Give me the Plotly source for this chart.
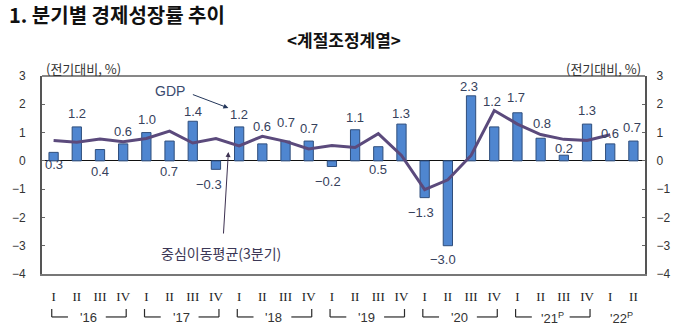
import plotly.graph_objects as go

# Quarterly real GDP growth (q/q, seasonally adjusted, %)
quarters = ["I", "II", "III", "IV"] * 6 + ["I", "II"]
gdp_growth = [0.3, 1.2, 0.4, 0.6,
              1.0, 0.7, 1.4, -0.3,
              1.2, 0.6, 0.7, 0.7,
              -0.2, 1.1, 0.5, 1.3,
              -1.3, -3.0, 2.3, 1.2,
              1.7, 0.8, 0.2, 1.3,
              0.6, 0.7]
# Centred 3-quarter moving average (through 2022 Q1)
moving_avg = [0.72, 0.66, 0.77, 0.68,
              0.79, 1.05, 0.63, 0.79,
              0.53, 0.87, 0.69, 0.42,
              0.54, 0.47, 0.96, 0.19,
              -1.02, -0.67, 0.19, 1.78,
              1.30, 0.93, 0.76, 0.72,
              0.92]
year_labels = ["'16", "'17", "'18", "'19", "'20", "'21<sup>P</sup>"]
last_year_label = "'22<sup>P</sup>"

# Pixel offsets for the value labels (positive = above the bar end)
label_yshift = [-12, 13, -22, 12, 13, -30, 10, -15,
                12, 17, 19, 13, -15, 12, -23, 11,
                -15, -14, 9, 25, 15, 15, 7, 14, 10, 14]
label_xshift = [0, 0, 0, 0, 1, -1, 0, -7,
                0, 0, 0, 0, -4, 0, 0, 0,
                -4, -5, -2, -2, -1, 1, 0, 0, 0, -1]

n = len(gdp_growth)
xs = list(range(n))

TEXT = "#333333"
LABEL = "#36415c"
KR = "Noto Sans CJK KR"
NUM = "Liberation Sans"

fig = go.Figure()
fig.add_trace(go.Bar(
    x=xs, y=gdp_growth, width=0.4,
    marker=dict(color="#4f86d0", line=dict(color="#2f4e7c", width=1)),
    showlegend=False, hoverinfo="skip"))
fig.add_trace(go.Scatter(
    x=xs[:len(moving_avg)], y=moving_avg, mode="lines",
    line=dict(color="#5b4a7c", width=3), showlegend=False, hoverinfo="skip"))
# invisible trace to carry the right-hand axis
fig.add_trace(go.Scatter(x=[0], y=[0], yaxis="y2", mode="markers",
                         marker=dict(opacity=0), showlegend=False, hoverinfo="skip"))

ann = []
for i, v in enumerate(gdp_growth):
    txt = f"{v:.1f}".replace("-", "\u2212")
    ann.append(dict(x=i, y=v, xref="x", yref="y", text=txt, showarrow=False,
                    yshift=label_yshift[i], xshift=label_xshift[i],
                    xanchor="center", yanchor="middle",
                    font=dict(family=NUM, size=13, color=LABEL)))

# items below are placed in pixel coordinates and converted further down
px_ann = []
px_ann.append(dict(x=82, y=68, text="(전기대비, %)",
                   font=dict(family=KR, size=13, color=TEXT)))
px_ann.append(dict(x=603, y=68, text="(전기대비, %)",
                   font=dict(family=KR, size=13, color=TEXT)))
px_ann.append(dict(x=5, y=15, text="<b>1. 분기별 경제성장률 추이</b>", xanchor="left",
                   font=dict(family=KR, size=20, color="#111111")))
px_ann.append(dict(x=343, y=39, text="<b>&lt;계절조정계열&gt;</b>",
                   font=dict(family=KR, size=17, color="#111111")))
px_ann.append(dict(x=168, y=91, text="GDP",
                   font=dict(family=NUM, size=14, color="#3a4a6e")))
px_ann.append(dict(x=220, y=253, text="중심이동평균(3분기)",
                   font=dict(family=KR, size=14, color="#3c3856")))
# callout arrows (head position, tail offset)
px_ann.append(dict(x=227, y=108, text="", showarrow=True, ax=-37, ay=-14,
                   arrowhead=2, arrowsize=1, arrowwidth=1, arrowcolor="#23365a"))
px_ann.append(dict(x=227, y=152, text="", showarrow=True, ax=-5, ay=83,
                   arrowhead=2, arrowsize=1, arrowwidth=1, arrowcolor="#3c3050"))

L, R, T, B, W, H = 40, 38, 76, 57, 683, 331
pw, ph = W - L - R, H - T - B
for a in px_ann:
    a.setdefault("showarrow", False)
    a.setdefault("xanchor", "center")
    a.setdefault("yanchor", "middle")
    a["xref"], a["yref"] = "paper", "paper"
    a["x"] = (a["x"] - L) / pw
    a["y"] = (H - B - a["y"]) / ph
    ann.append(a)

shapes = []
# top frame line
shapes.append(dict(type="line", xref="paper", yref="paper", x0=0, x1=1, y0=1, y1=1,
                   line=dict(color="#111111", width=1)))

# year brackets under each group of four quarters
y_top, y_bot = -0.177, -0.217
for k, lab in enumerate(year_labels):
    q1, q4 = 4 * k, 4 * k + 3
    lx, rx = q1 - 0.08, q4 + 0.13
    for seg in [(lx, y_top, lx, y_bot), (lx, y_bot, q1 + 0.62, y_bot),
                (q4 - 0.75, y_bot, rx, y_bot), (rx, y_bot, rx, y_top)]:
        shapes.append(dict(type="line", xref="x", yref="paper",
                           x0=seg[0], y0=seg[1], x1=seg[2], y1=seg[3],
                           line=dict(color="#2a2a2a", width=1.2)))
    ann.append(dict(x=(q1 + q4) / 2, y=-0.222, xref="x", yref="paper", text=lab,
                    showarrow=False, xanchor="center", yanchor="middle",
                    font=dict(family=NUM, size=13, color=TEXT)))
ann.append(dict(x=24.5, y=-0.222, xref="x", yref="paper", text=last_year_label,
                showarrow=False, xanchor="center", yanchor="middle",
                font=dict(family=NUM, size=13, color=TEXT)))

yticks = [3, 2, 1, 0, -1, -2, -3, -4]
fig.update_layout(
    width=W, height=H, margin=dict(l=L, r=R, t=T, b=B),
    paper_bgcolor="white", plot_bgcolor="white",
    annotations=ann, shapes=shapes,
    xaxis=dict(range=[-0.5, n - 0.5], tickmode="array", tickvals=xs, ticktext=quarters,
               showgrid=False, zeroline=False, showline=True, linecolor="#777777", linewidth=2,
               ticks="", ticklabelstandoff=9,
               tickfont=dict(family="Liberation Serif", size=13, color="#222222")),
    yaxis=dict(range=[-4, 3], tickmode="array", tickvals=yticks, showgrid=False,
               zeroline=True, zerolinecolor="#111111", zerolinewidth=1,
               showline=True, linecolor="#555555", linewidth=2,
               ticks="inside", ticklen=3, tickcolor="#666666", ticklabelstandoff=12,
               tickfont=dict(family=NUM, size=12, color=TEXT)),
    yaxis2=dict(range=[-4, 3], overlaying="y", side="right", tickmode="array", tickvals=yticks,
                showgrid=False, zeroline=False, showline=True, linecolor="#555555", linewidth=2,
                ticks="inside", ticklen=3, tickcolor="#666666", ticklabelstandoff=7,
                tickfont=dict(family=NUM, size=12, color=TEXT)),
)

fig.write_html("out.html")
